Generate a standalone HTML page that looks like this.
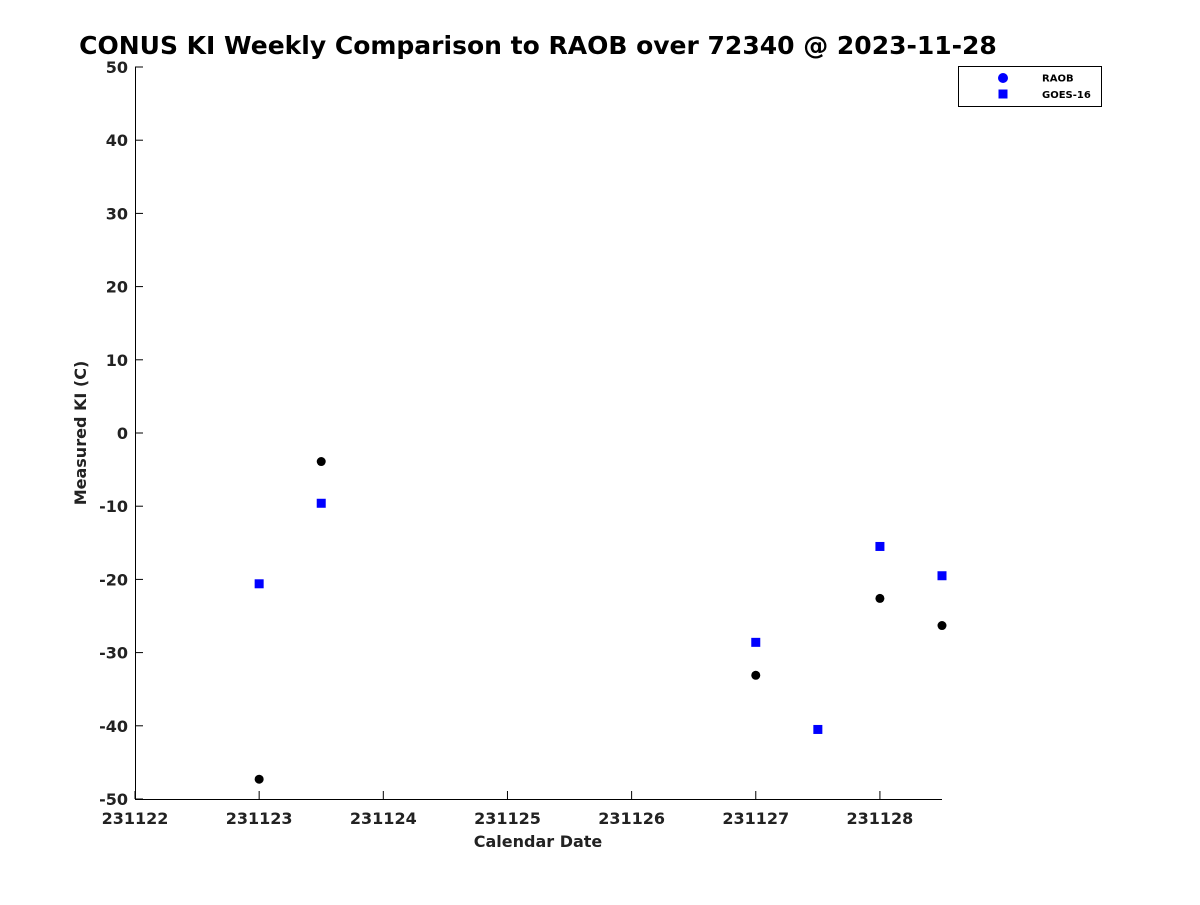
<!DOCTYPE html>
<html><head><meta charset="utf-8"><style>
body{margin:0;background:#fff;}
svg{font-family:"DejaVu Sans","Liberation Sans",sans-serif;}
</style></head><body>
<svg id="chart" width="1200" height="900" xmlns="http://www.w3.org/2000/svg">
<text x="538" y="54" text-anchor="middle" font-size="25" font-weight="bold" fill="#000">CONUS KI Weekly Comparison to RAOB over 72340 @ 2023-11-28</text>
<g id="axes"></g>
<g id="marks"></g>
<g>
<rect x="958.5" y="66.5" width="143" height="40" fill="#fff" stroke="#000"/>
<circle cx="1003" cy="78" r="5" fill="#0000ff"/>
<text x="1042" y="81.5" font-size="10" font-weight="bold" fill="#000">RAOB</text>
<rect x="998.5" y="89.5" width="9" height="9" fill="#0000ff"/>
<text x="1042" y="98" font-size="10" font-weight="bold" fill="#000">GOES-16</text>
</g>
</svg>
<script>
const xTicks=[231122,231123,231124,231125,231126,231127,231128];
const yTicks=[50,40,30,20,10,0,-10,-20,-30,-40,-50];
const raobX=[231123,231123.5,231127,231128,231128.5];
const raobY=[-47.3,-3.9,-33.1,-22.6,-26.3];
const goesX=[231123,231123.5,231127,231127.5,231128,231128.5];
const goesY=[-20.6,-9.6,-28.6,-40.5,-15.5,-19.5];
const NS="http://www.w3.org/2000/svg";
const x0=135,x1=942,xmin=231122,xmax=231128.5,y0=799,y1=67,ymin=-50,ymax=50;
const sx=v=>x0+(v-xmin)/(xmax-xmin)*(x1-x0);
const sy=v=>y0-(v-ymin)/(ymax-ymin)*(y0-y1);
function mk(tag,attrs,parent){const e=document.createElementNS(NS,tag);for(const k in attrs)e.setAttribute(k,attrs[k]);parent.appendChild(e);return e;}
const ax=document.getElementById('axes'),mr=document.getElementById('marks');
let l=mk('line',{x1:x0+.5,y1:y1,x2:x0+.5,y2:y0,stroke:'#000'},ax);


l=mk('line',{x1:x0,y1:y0+.5,x2:x1,y2:y0+.5,stroke:'#000'},ax);


yTicks.forEach(v=>{const y=sy(v);
 const t=mk('line',{x1:x0,y1:y,x2:x0+8,y2:y,stroke:'#000'},ax);
 
 
 const tx=mk('text',{x:x0-7,y:y+6,'text-anchor':'end','font-size':16,'font-weight':'bold',fill:'#222'},ax);tx.textContent=v;
 
 });
xTicks.forEach(v=>{const x=sx(v);
 const t=mk('line',{x1:x,y1:y0,x2:x,y2:y0-8,stroke:'#000'},ax);
 
 
 const tx=mk('text',{x:x,y:y0+25,'text-anchor':'middle','font-size':16,'font-weight':'bold',fill:'#222'},ax);tx.textContent=v;
 
 });
let t=mk('text',{x:538,y:847,'text-anchor':'middle','font-size':16,'font-weight':'bold',fill:'#222'},ax);t.textContent='Calendar Date';


t=mk('text',{x:86,y:433,'text-anchor':'middle','font-size':16,'font-weight':'bold',fill:'#222',transform:'rotate(-90 86 433)'},ax);t.textContent='Measured KI (C)';


goesX.forEach((v,i)=>{const r=mk('rect',{x:sx(v)-4.5,y:sy(goesY[i])-4.5,width:9,height:9,fill:'#0000ff'},mr);
 
 });
raobX.forEach((v,i)=>{const c=mk('circle',{cx:sx(v),cy:sy(raobY[i]),r:4.5,fill:'#000'},mr);
 
 });
</script>
</body></html>
